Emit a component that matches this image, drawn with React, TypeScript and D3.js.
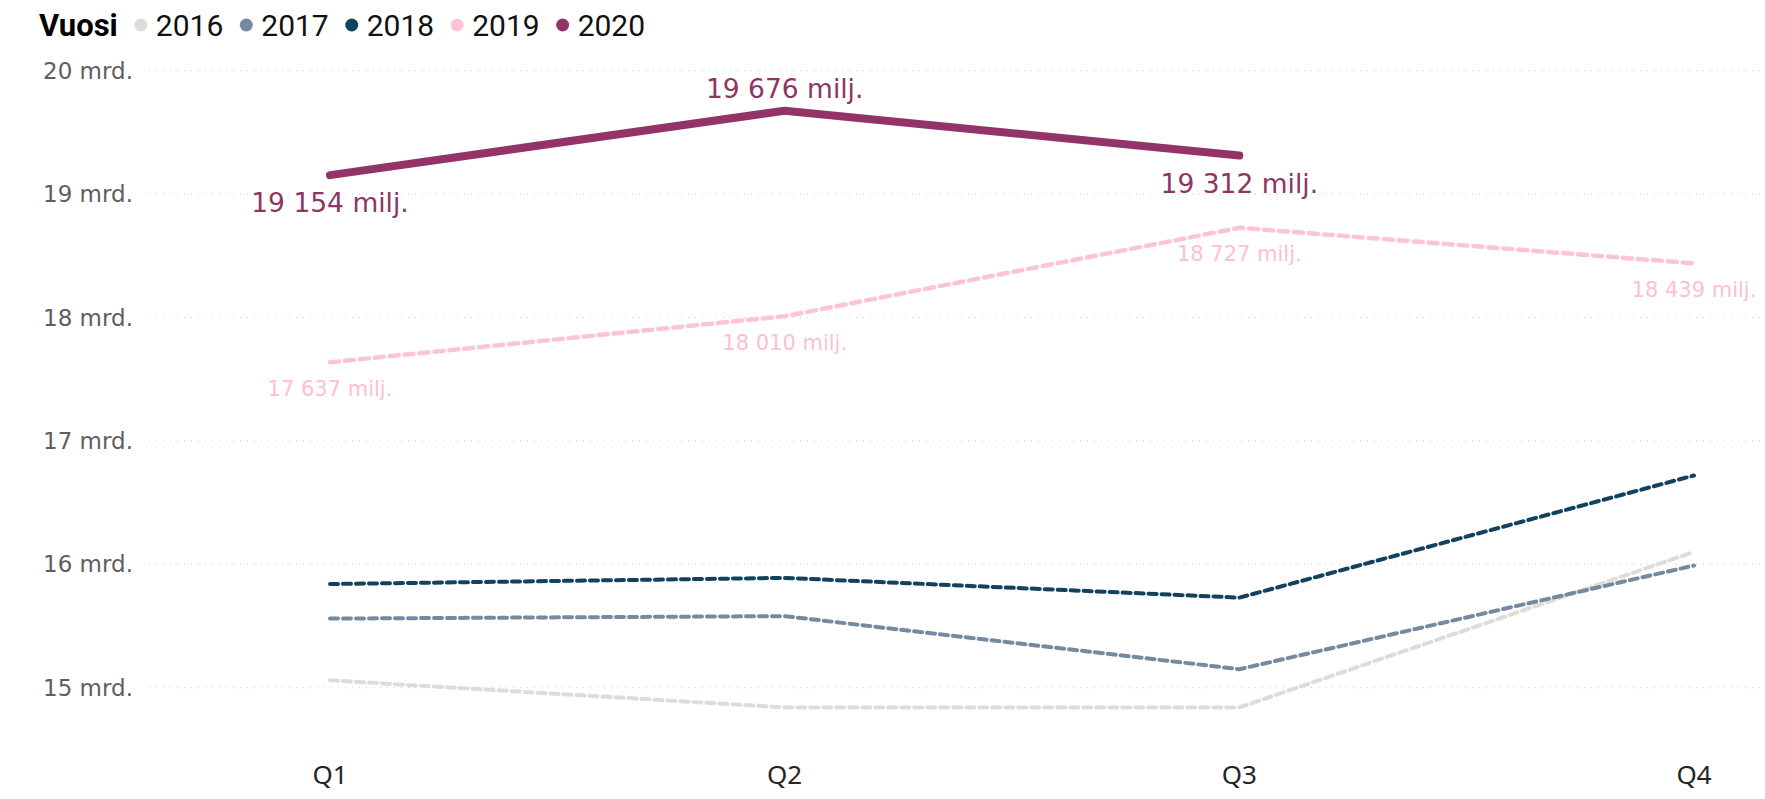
import { useEffect, useRef } from 'react';
import * as d3 from 'd3';

const quarters = ['Q1', 'Q2', 'Q3', 'Q4'];
const years = ['2016', '2017', '2018', '2019', '2020'];
const colors = ['#dfdbd7', '#768a9f', '#11425e', '#ffc4d3', '#923467'];

// values in milliards
const v2016 = [15.06, 14.84, 14.84, 16.1];
const v2017 = [15.56, 15.58, 15.15, 15.99];
const v2018 = [15.84, 15.89, 15.73, 16.72];
const v2019 = [17.637, 18.01, 18.727, 18.439];
const v2020 = [19.154, 19.676, 19.312];

const yTicks = [15, 16, 17, 18, 19, 20];

// label placement for 2020: above (-1) or below (1)
const pos2020 = [1, -1, 1];

export default function App() {
	const ref = useRef<SVGSVGElement | null>(null);

	useEffect(() => {
		if (!ref.current) return;
		const svg = d3.select(ref.current);
		svg.selectAll('*').remove();

		const W = 1765;
		const gridLeft = 149;

		const x = d3.scalePoint().domain(quarters).range([330, 1694]);
		const y = d3.scaleLinear().domain([15, 20]).range([687.7, 70.7]);

		// gridlines + y labels
		const yg = svg.append('g');
		yTicks.forEach(t => {
			yg.append('line')
				.attr('x1', gridLeft)
				.attr('x2', W)
				.attr('y1', y(t))
				.attr('y2', y(t))
				.attr('stroke', '#c8c8c8')
				.attr('stroke-width', 1)
				.attr('stroke-dasharray', '1,6');
			yg.append('text')
				.attr('x', 133)
				.attr('y', y(t))
				.attr('dy', '0.35em')
				.attr('text-anchor', 'end')
				.style('font-family', 'DejaVu Sans')
				.style('font-size', '23px')
				.style('fill', '#605e5c')
				.text(`${t} mrd.`);
		});

		// x labels
		quarters.forEach(q => {
			svg.append('text')
				.attr('x', x(q)!)
				.attr('y', 775)
				.attr('dy', '0.35em')
				.attr('text-anchor', 'middle')
				.style('font-family', 'Noto Sans')
				.style('font-size', '26px')
				.style('fill', '#252423')
				.text(q);
		});

		const line = d3
			.line<number>()
			.x((_, i) => x(quarters[i])!)
			.y(d => y(d));

		const series = [v2016, v2017, v2018, v2019];
		series.forEach((s, i) => {
			svg.append('path')
				.datum(s)
				.attr('fill', 'none')
				.attr('stroke', colors[i])
				.attr('stroke-width', i === 3 ? 4.5 : 4)
				.attr('stroke-dasharray', i === 3 ? '9,6' : '8,5')
				.attr('stroke-linecap', 'round')
				.attr('stroke-linejoin', 'round')
				.attr('d', line);
		});

		svg.append('path')
			.datum(v2020)
			.attr('fill', 'none')
			.attr('stroke', colors[4])
			.attr('stroke-width', 8)
			.attr('stroke-linecap', 'round')
			.attr('stroke-linejoin', 'round')
			.attr('d', line);

		const fmt = (v: number) => {
			const n = Math.round(v * 1000);
			return `${d3.format(',')(n).replace(/,/g, ' ')} milj.`;
		};

		v2019.forEach((v, i) => {
			svg.append('text')
				.attr('x', x(quarters[i])!)
				.attr('y', y(v) + 26)
				.attr('dy', '0.35em')
				.attr('text-anchor', 'middle')
				.style('font-family', 'DejaVu Sans')
				.style('font-size', '21px')
				.style('fill', '#ffbfcf')
				.text(fmt(v));
		});

		v2020.forEach((v, i) => {
			svg.append('text')
				.attr('x', x(quarters[i])!)
				.attr('y', y(v) + (pos2020[i] > 0 ? 28 : -22))
				.attr('dy', '0.35em')
				.attr('text-anchor', 'middle')
				.style('font-family', 'DejaVu Sans')
				.style('font-size', '26.5px')
				.style('fill', '#8e3564')
				.text(fmt(v));
		});

		// legend
		const lg = svg.append('g').attr('transform', 'translate(39, 25)');
		const title = lg.append('text')
			.attr('x', 0)
			.attr('y', 0)
			.attr('dy', '0.35em')
			.style('font-family', 'Roboto')
			.style('font-weight', 'bold')
			.style('font-size', '31px')
			.style('fill', '#000')
			.text('Vuosi');
		let cx = (title.node() as SVGTextElement).getComputedTextLength() + 23;
		years.forEach((yr, i) => {
			lg.append('circle').attr('cx', cx).attr('cy', 0).attr('r', 6.5).attr('fill', colors[i]);
			const t = lg.append('text')
				.attr('x', cx + 15)
				.attr('y', 0)
				.attr('dy', '0.35em')
				.style('font-family', 'Roboto')
				.style('font-size', '30px')
				.style('fill', '#111')
				.text(yr);
			cx += 15 + (t.node() as SVGTextElement).getComputedTextLength() + 23;
		});
	}, []);

	return (
		<svg
			ref={ref}
			width={1765}
			height={799}
			style={{ position: 'absolute', left: 0, top: 0, background: '#fff' }}
		/>
	);
}
